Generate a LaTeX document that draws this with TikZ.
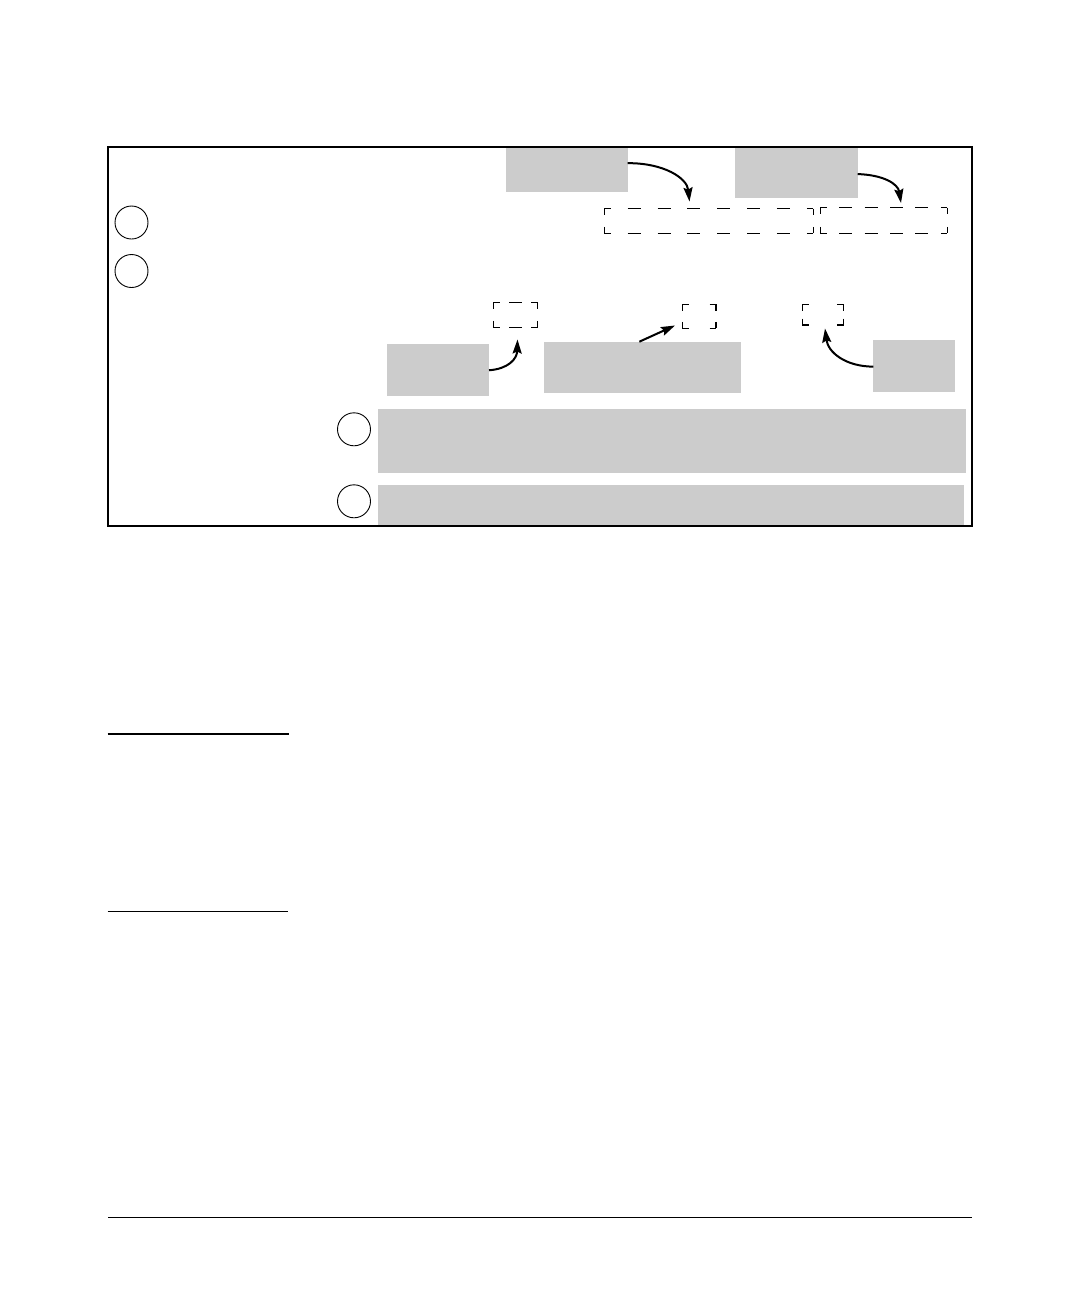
\documentclass[tikz,border=0pt]{standalone}
\usetikzlibrary{arrows.meta}
\definecolor{boxgray}{HTML}{CCCCCC}
\tikzset{
  gbox/.style={fill=boxgray, draw=none, inner sep=0pt, outer sep=0pt, anchor=north west},
  dbox/.style={draw=none, inner sep=0pt, outer sep=0pt, anchor=north west},
  num/.style={circle, draw, line width=0.9pt, minimum size=33pt, inner sep=0pt},
  dline/.style={line width=1.3pt},
  callout/.style={line width=2pt, -{Stealth[length=14pt,width=9pt,inset=2pt]}},
  rule/.style={line width=1.3pt}
}
\newcommand\cornerbox[3]{%
  \draw[dline, dash pattern=on 13pt off #2pt, dash phase=6.5pt] (#1.north west) -- (#1.north east);
  \draw[dline, dash pattern=on 13pt off #2pt, dash phase=6.5pt] (#1.south west) -- (#1.south east);
  \draw[dline, dash pattern=on 13pt off #3pt, dash phase=6.5pt] (#1.north west) -- (#1.south west);
  \draw[dline, dash pattern=on 13pt off #3pt, dash phase=6.5pt] (#1.north east) -- (#1.south east);
}
\begin{document}
\begin{tikzpicture}[x=1pt,y=-1pt]
\useasboundingbox (0,0) rectangle (1080,1296);

% gray boxes
\node[gbox, minimum width=121.7pt, minimum height=44.7pt] (g1) at (506,147) {};
\node[gbox, minimum width=122.7pt, minimum height=50.7pt] (g2) at (735,147) {};
\node[gbox, minimum width=102pt, minimum height=51.5pt] (g3) at (387,344) {};
\node[gbox, minimum width=196.7pt, minimum height=51.6pt] (g4) at (544,341.7) {};
\node[gbox, minimum width=81.4pt, minimum height=51.7pt] (g5) at (873.3,340) {};
\node[gbox, minimum width=588pt, minimum height=64.3pt] (g6) at (378,409) {};
\node[gbox, minimum width=586pt, minimum height=41pt] (g7) at (378,485) {};

% frame
\node[draw, line width=2.3pt, inner sep=0pt, outer sep=0pt, minimum width=864pt, minimum height=379pt, anchor=north west] (frame) at (108.3,147) {};

% numbered circles
\node[num] (c1) at (131.5,222.5) {};
\node[num] (c2) at (131.5,271) {};
\node[num] (c3) at (354,429.3) {};
\node[num] (c4) at (354,501.3) {};

% dashed corner boxes
\node[dbox, minimum width=209pt, minimum height=24.6pt] (d1) at (604.3,208.7) {};
\node[dbox, minimum width=127pt, minimum height=25.6pt] (d2) at (820.3,207.7) {};
\node[dbox, minimum width=44.4pt, minimum height=25pt] (s1) at (493.3,302.3) {};
\node[dbox, minimum width=33.7pt, minimum height=24pt] (s2) at (682.3,304.3) {};
\node[dbox, minimum width=41.4pt, minimum height=20.7pt] (s3) at (802.3,304.3) {};
\cornerbox{d1}{16.86}{11.6}
\cornerbox{d2}{12.4}{12.6}
\cornerbox{s1}{9.2}{12}
\cornerbox{s2}{20.7}{11}
\cornerbox{s3}{28.4}{7.7}

% arrow tips
\coordinate (t1) at (689.5,201.5);
\coordinate (t2) at (901,203);
\coordinate (t3) at (517.5,339.5);
\coordinate (t4) at (675,325.5);
\coordinate (t5) at (825,328.5);

% callout arrows
\draw[callout] ([yshift=6.2pt]g1.east) .. controls (664,163) and (687,178) .. (t1);
\draw[callout] ([yshift=-1.7pt]g2.east) .. controls (884,175) and (898,184) .. (t2);
\draw[callout] ([yshift=-0.5pt]g3.east) .. controls (508,369) and (517,359) .. (t3);
\draw[callout] ([xshift=-3pt]g4.north) -- (t4);
\draw[callout] ([yshift=-0.8pt]g5.west) .. controls (845,366.5) and (828,352) .. (t5);

% rules below
\coordinate (r1a) at (107.7,733.7);
\coordinate (r1b) at (289,733.7);
\coordinate (r2a) at (107.7,911.3);
\coordinate (r2b) at (287.7,911.3);
\coordinate (r3a) at (108,1217.3);
\coordinate (r3b) at (971.7,1217.3);
\draw[line width=2pt] (r1a) -- (r1b);
\draw[rule] (r2a) -- (r2b);
\draw[rule] (r3a) -- (r3b);
\end{tikzpicture}
\end{document}
